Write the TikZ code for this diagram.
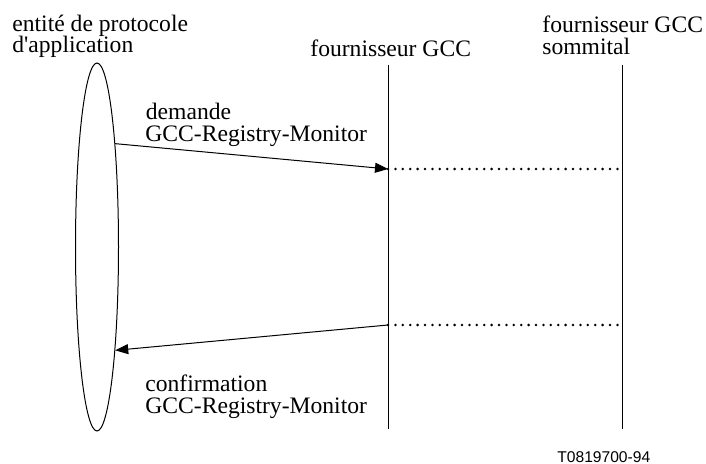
\documentclass[tikz,border=0pt]{standalone}
\usepackage{fontspec}
\setmainfont{Liberation Serif}[Ligatures=TeXOff]
\newfontfamily\labelsans{Liberation Sans}
\usetikzlibrary{arrows.meta,shapes.geometric}

\begin{document}
\begin{tikzpicture}[x=0.5pt,y=-0.5pt,
  lbl/.style={anchor=base west,inner sep=0pt,font=\fontsize{11.8}{11}\selectfont},
  lifeline/.style={line width=0.5pt},
  msg/.style={line width=0.5pt,-{Triangle[length=6.5pt,width=5pt]}},
  dots/.style={line width=1.4pt,line cap=round,dash pattern=on 0pt off 3.7pt}]
\useasboundingbox (0,0) rectangle (706,464);

% application protocol entity
\node[draw,ellipse,line width=0.5pt,inner sep=0pt,
      minimum width=21.5pt,minimum height=184pt] (ent) at (97,247) {};

% lifelines of the two providers
\coordinate (gccTop) at (388,65);
\coordinate (gccBot) at (388,429);
\coordinate (topTop) at (622,65);
\coordinate (topBot) at (622,429);
\draw[lifeline] (gccTop) -- (gccBot);
\draw[lifeline] (topTop) -- (topBot);

% request
\coordinate (reqEnd) at (388,169);
\coordinate (reqFar) at (622,169);
\draw[msg] (ent.80.3) -- (reqEnd);
\draw[dots] (reqEnd) -- (reqFar);

% confirm
\coordinate (cnfStart) at (388,325);
\coordinate (cnfFar) at (622,325);
\draw[dots] (cnfStart) -- (cnfFar);
\draw[msg] (cnfStart) -- (ent.-80.3);

% labels
\node[lbl] (ape1) at (12,31.7) {entité de protocole};
\node[lbl] (ape2) at (12,53) {d'application};
\node[lbl] (gcc) at (310,56.7) {fournisseur GCC};
\node[lbl] (top1) at (542,33) {fournisseur GCC};
\node[lbl] (top2) at (542,55) {sommital};
\node[lbl] (req1) at (145.5,119.3) {demande};
\node[lbl] (req2) at (145,141.7) {GCC-Registry-Monitor};
\node[lbl] (cnf1) at (145,392) {confirmation};
\node[lbl] (cnf2) at (145,413) {GCC-Registry-Monitor};
\node[anchor=base west,inner sep=0pt,font=\labelsans\fontsize{7.8}{9}\selectfont]
  (ref) at (557,462) {T0819700-94};
\end{tikzpicture}
\end{document}
